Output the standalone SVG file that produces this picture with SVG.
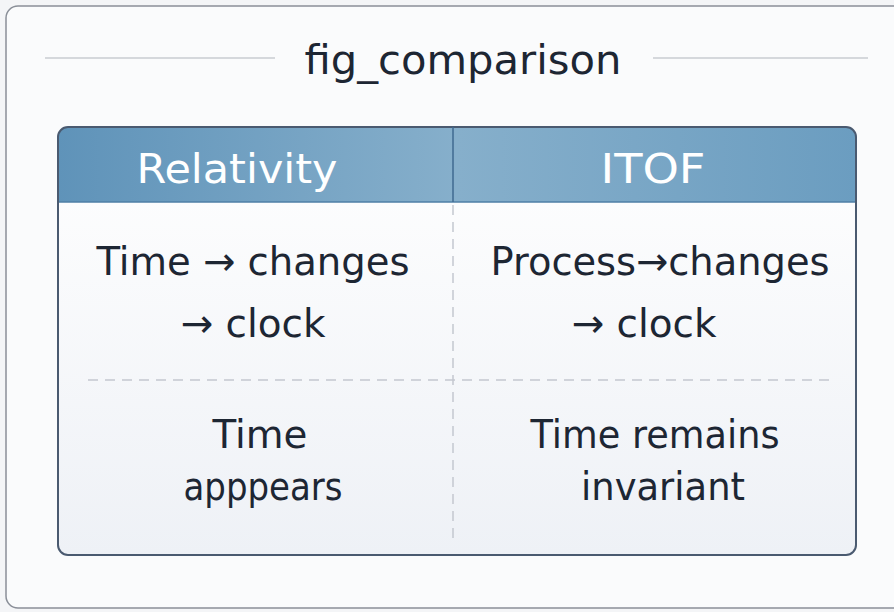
<svg xmlns="http://www.w3.org/2000/svg" width="894" height="612" viewBox="0 0 894 612">
<defs>
<linearGradient id="hdr" x1="0" y1="0" x2="1" y2="0">
<stop offset="0" stop-color="#5f93b9"/>
<stop offset="0.5" stop-color="#86afcb"/>
<stop offset="1" stop-color="#6b9dc0"/>
</linearGradient>
<linearGradient id="body" x1="0" y1="0" x2="0" y2="1">
<stop offset="0" stop-color="#ffffff"/>
<stop offset="1" stop-color="#eef1f6"/>
</linearGradient>
<clipPath id="tbl"><rect x="58" y="127" width="798" height="428" rx="10"/></clipPath>
</defs>
<style>
.t{font-family:"DejaVu Sans","Open Sans",sans-serif;fill:#1d2633;text-anchor:middle}
.h{font-family:"DejaVu Sans","Open Sans",sans-serif;fill:#ffffff;text-anchor:middle;font-size:40px}
.c{font-size:39px}
.dash{stroke:#c3c8d0;stroke-width:1.5;stroke-dasharray:10 7;fill:none}
</style>
<rect x="0" y="0" width="894" height="612" fill="#f4f5f7"/>
<rect x="6" y="6" width="900" height="602" rx="12" fill="#fafbfc" stroke="#8a8f98" stroke-width="1.5"/>
<g id="title">
<line x1="45" y1="58" x2="275" y2="58" stroke="#c9ccd2" stroke-width="1.5"/>
<line x1="653" y1="58" x2="868" y2="58" stroke="#c9ccd2" stroke-width="1.5"/>
<text class="t" x="463" y="74" font-size="41" textLength="317" lengthAdjust="spacingAndGlyphs">fig_comparison</text>
</g>
<g id="table">
<g clip-path="url(#tbl)">
<rect x="58" y="127" width="798" height="428" fill="url(#body)"/>
<rect x="58" y="127" width="798" height="75" fill="url(#hdr)"/>
<line x1="58" y1="202" x2="856" y2="202" stroke="#4f7fa6" stroke-width="1.5"/>
</g>
<rect x="58" y="127" width="798" height="428" rx="10" fill="none" stroke="#4a5a70" stroke-width="2"/>
<line x1="453" y1="127" x2="453" y2="202" stroke="#3f6a90" stroke-width="1.5"/>
</g>
<g id="connectors">
<line class="dash" x1="453" y1="205" x2="453" y2="540"/>
<line class="dash" x1="88" y1="380" x2="835" y2="380"/>
</g>
<g id="hdr-relativity"><text class="h" x="237" y="183" textLength="201" lengthAdjust="spacingAndGlyphs">Relativity</text></g>
<g id="hdr-itof"><text class="h" x="653" y="183" textLength="105" lengthAdjust="spacingAndGlyphs">ITOF</text></g>
<g id="cell-rel-1">
<text class="t c" x="253" y="275" textLength="313" lengthAdjust="spacingAndGlyphs">Time → changes</text>
<text class="t c" x="253" y="337" textLength="145" lengthAdjust="spacingAndGlyphs">→ clock</text>
</g>
<g id="cell-itof-1">
<text class="t c" x="660" y="275" textLength="339" lengthAdjust="spacingAndGlyphs">Process→changes</text>
<text class="t c" x="644" y="337" textLength="145" lengthAdjust="spacingAndGlyphs">→ clock</text>
</g>
<g id="cell-rel-2">
<text class="t c" x="260" y="448" textLength="95" lengthAdjust="spacingAndGlyphs">Time</text>
<text class="t c" x="263" y="500" textLength="159" lengthAdjust="spacingAndGlyphs">apppears</text>
</g>
<g id="cell-itof-2">
<text class="t c" x="655" y="448" textLength="249" lengthAdjust="spacingAndGlyphs">Time remains</text>
<text class="t c" x="663" y="500" textLength="164" lengthAdjust="spacingAndGlyphs">invariant</text>
</g>
</svg>
